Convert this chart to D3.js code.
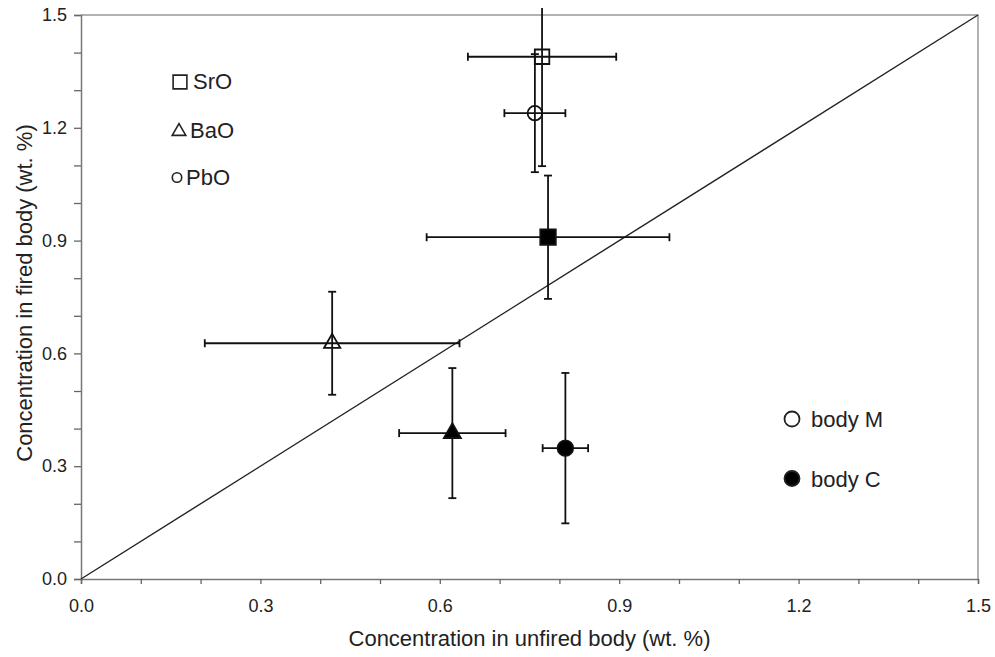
<!DOCTYPE html>
<html>
<head>
<meta charset="utf-8">
<script src="https://cdn.jsdelivr.net/npm/d3@7"></script>
<style>
  body { margin: 0; background: #fff; }
  text { font-family: "Liberation Sans", Arial, sans-serif; fill: #222; }
</style>
</head>
<body>
<div id="container"></div>
<script>
/* DATA */
const pointOxide = ["SrO", "PbO", "SrO", "BaO", "BaO", "PbO"];
const pointBody = ["M", "M", "C", "M", "C", "C"];
const unfiredVal = [0.771, 0.759, 0.781, 0.420, 0.621, 0.810];
const unfiredErr = [0.124, 0.051, 0.203, 0.213, 0.089, 0.038];
const firedVal = [1.389, 1.239, 0.909, 0.627, 0.388, 0.348];
const firedErr = [0.291, 0.157, 0.164, 0.137, 0.173, 0.200];
const tickValues = [0.0, 0.3, 0.6, 0.9, 1.2, 1.5];
const minorTicks = d3.range(0, 16).map(d => d / 10);
const oxideLegend = ["SrO", "BaO", "PbO"];
const bodyLegend = ["body M", "body C"];

/* CONSTANTS AND GLOBALS */
const margin = {top: 15, right: 17, bottom: 78, left: 81};
const width = 995 - margin.left - margin.right;
const height = 657 - margin.top - margin.bottom;

const svg = d3.select("#container")
  .append("svg")
    .attr("width", 995)
    .attr("height", 657)
  .append("g")
    .attr("transform", "translate(" + margin.left + "," + margin.top + ")");

const x = d3.scaleLinear().domain([0, 1.5]).range([0, width]);
const y = d3.scaleLinear().domain([0, 1.5]).range([height, 0]);

const data = pointOxide.map((o, i) => ({
  oxide: o, body: pointBody[i],
  x: unfiredVal[i], xe: unfiredErr[i],
  y: firedVal[i], ye: firedErr[i]
}));

/* FRAME */
svg.append("path")
  .attr("d", `M0,0H${width}V${height}`)
  .attr("fill", "none")
  .attr("stroke", "#999")
  .attr("stroke-width", 1.5);

/* AXES */
const xAxis = svg.append("g")
  .attr("transform", "translate(0," + height + ")");
xAxis.call(d3.axisBottom(x).tickValues(minorTicks).tickSize(5).tickFormat(""));
xAxis.call(g => g.selectAll(".tick line").attr("stroke", "#666").attr("stroke-width", 1.3));
xAxis.select(".domain").attr("stroke", "#777").attr("stroke-width", 1.5);

const xLabels = svg.append("g")
  .attr("transform", "translate(0," + height + ")")
  .call(d3.axisBottom(x).tickValues(tickValues).tickSize(0).tickPadding(20).tickFormat(d3.format(".1f")));
xLabels.select(".domain").remove();
xLabels.selectAll("text").style("font-size", "18px").attr("fill", "#222");

const yAxis = svg.append("g");
yAxis.call(d3.axisLeft(y).tickValues(minorTicks).tickSize(7).tickFormat(""));
yAxis.call(g => g.selectAll(".tick line").attr("stroke", "#666").attr("stroke-width", 1.3));
yAxis.select(".domain").attr("stroke", "#777").attr("stroke-width", 1.5);

const yLabels = svg.append("g")
  .call(d3.axisLeft(y).tickValues(tickValues).tickSize(0).tickPadding(14).tickFormat(d3.format(".1f")));
yLabels.select(".domain").remove();
yLabels.selectAll("text").style("font-size", "18px").attr("fill", "#222");

/* AXIS TITLES */
svg.append("text")
  .attr("x", width / 2)
  .attr("y", height + 67)
  .attr("text-anchor", "middle")
  .style("font-size", "22px")
  .text("Concentration in unfired body (wt. %)");

svg.append("text")
  .attr("transform", "translate(" + (-49) + "," + (height / 2 - 4) + ") rotate(-90)")
  .attr("text-anchor", "middle")
  .style("font-size", "22px")
  .text("Concentration in fired body (wt. %)");

/* 1:1 LINE */
svg.append("line")
  .attr("x1", x(0)).attr("y1", y(0))
  .attr("x2", x(1.5)).attr("y2", y(1.5))
  .attr("stroke", "#222")
  .attr("stroke-width", 1.4);

/* ERROR BARS */
svg.append("clipPath").attr("id", "clip")
  .append("rect").attr("x", -5).attr("y", -7).attr("width", width + 10).attr("height", height + 10);

const cap = 4;
const bars = svg.append("g").attr("clip-path", "url(#clip)")
  .attr("stroke", "#111").attr("stroke-width", 1.8).attr("fill", "none");

data.forEach(d => {
  const g = bars.append("g");
  const x0 = x(d.x - d.xe), x1 = x(d.x + d.xe), yc = y(d.y);
  const y0 = y(d.y - d.ye), y1 = y(d.y + d.ye), xc = x(d.x);
  g.append("line").attr("x1", x0).attr("x2", x1).attr("y1", yc).attr("y2", yc);
  g.append("line").attr("x1", x0).attr("x2", x0).attr("y1", yc - cap).attr("y2", yc + cap);
  g.append("line").attr("x1", x1).attr("x2", x1).attr("y1", yc - cap).attr("y2", yc + cap);
  g.append("line").attr("x1", xc).attr("x2", xc).attr("y1", y0).attr("y2", y1);
  g.append("line").attr("x1", xc - cap).attr("x2", xc + cap).attr("y1", y0).attr("y2", y0);
  if (y1 > 0) g.append("line").attr("x1", xc - cap).attr("x2", xc + cap).attr("y1", y1).attr("y2", y1);
});

/* MARKERS */
const shapes = {SrO: d3.symbolSquare, BaO: d3.symbolTriangle, PbO: d3.symbolCircle};
const sizesM = {SrO: 210, BaO: 115, PbO: 165};
const sizesC = {SrO: 240, BaO: 125, PbO: 190};

svg.selectAll("path.marker")
  .data(data)
  .join("path")
  .attr("class", "marker")
  .attr("transform", d => "translate(" + x(d.x) + "," + y(d.y) + ")")
  .attr("d", d => d3.symbol().type(shapes[d.oxide]).size(d.body === "C" ? sizesC[d.oxide] : sizesM[d.oxide])())
  .attr("fill", d => d.body === "C" ? "#000" : "none")
  .attr("stroke", "#111")
  .attr("stroke-width", 1.8);

/* LEGENDS */
const legendSize = {SrO: 190, BaO: 80, PbO: 70};
const legendX = [0, -1, -3];
const legendY = [67, 116.5, 162.5];
const oxLeg = svg.append("g").attr("transform", "translate(99,0)");
oxideLegend.forEach((o, i) => {
  const g = oxLeg.append("g").attr("transform", "translate(" + legendX[i] + "," + legendY[i] + ")");
  g.append("path")
    .attr("d", d3.symbol().type(shapes[o]).size(legendSize[o])())
    .attr("fill", "none").attr("stroke", "#222").attr("stroke-width", 1.6);
  g.append("text").attr("x", i === 0 ? 13 : i === 1 ? 11 : 9).attr("y", i === 1 ? 6 : 7)
    .style("font-size", "22px").text(o);
});

const bodyLeg = svg.append("g").attr("transform", "translate(711,404)");
bodyLegend.forEach((b, i) => {
  const g = bodyLeg.append("g").attr("transform", "translate(0," + (i * 59.5) + ")");
  g.append("circle").attr("r", 7.5)
    .attr("fill", i === 1 ? "#000" : "none").attr("stroke", "#222").attr("stroke-width", 1.8);
  g.append("text").attr("x", 19).attr("y", 8).style("font-size", "22px").text(b);
});
</script>
</body>
</html>
